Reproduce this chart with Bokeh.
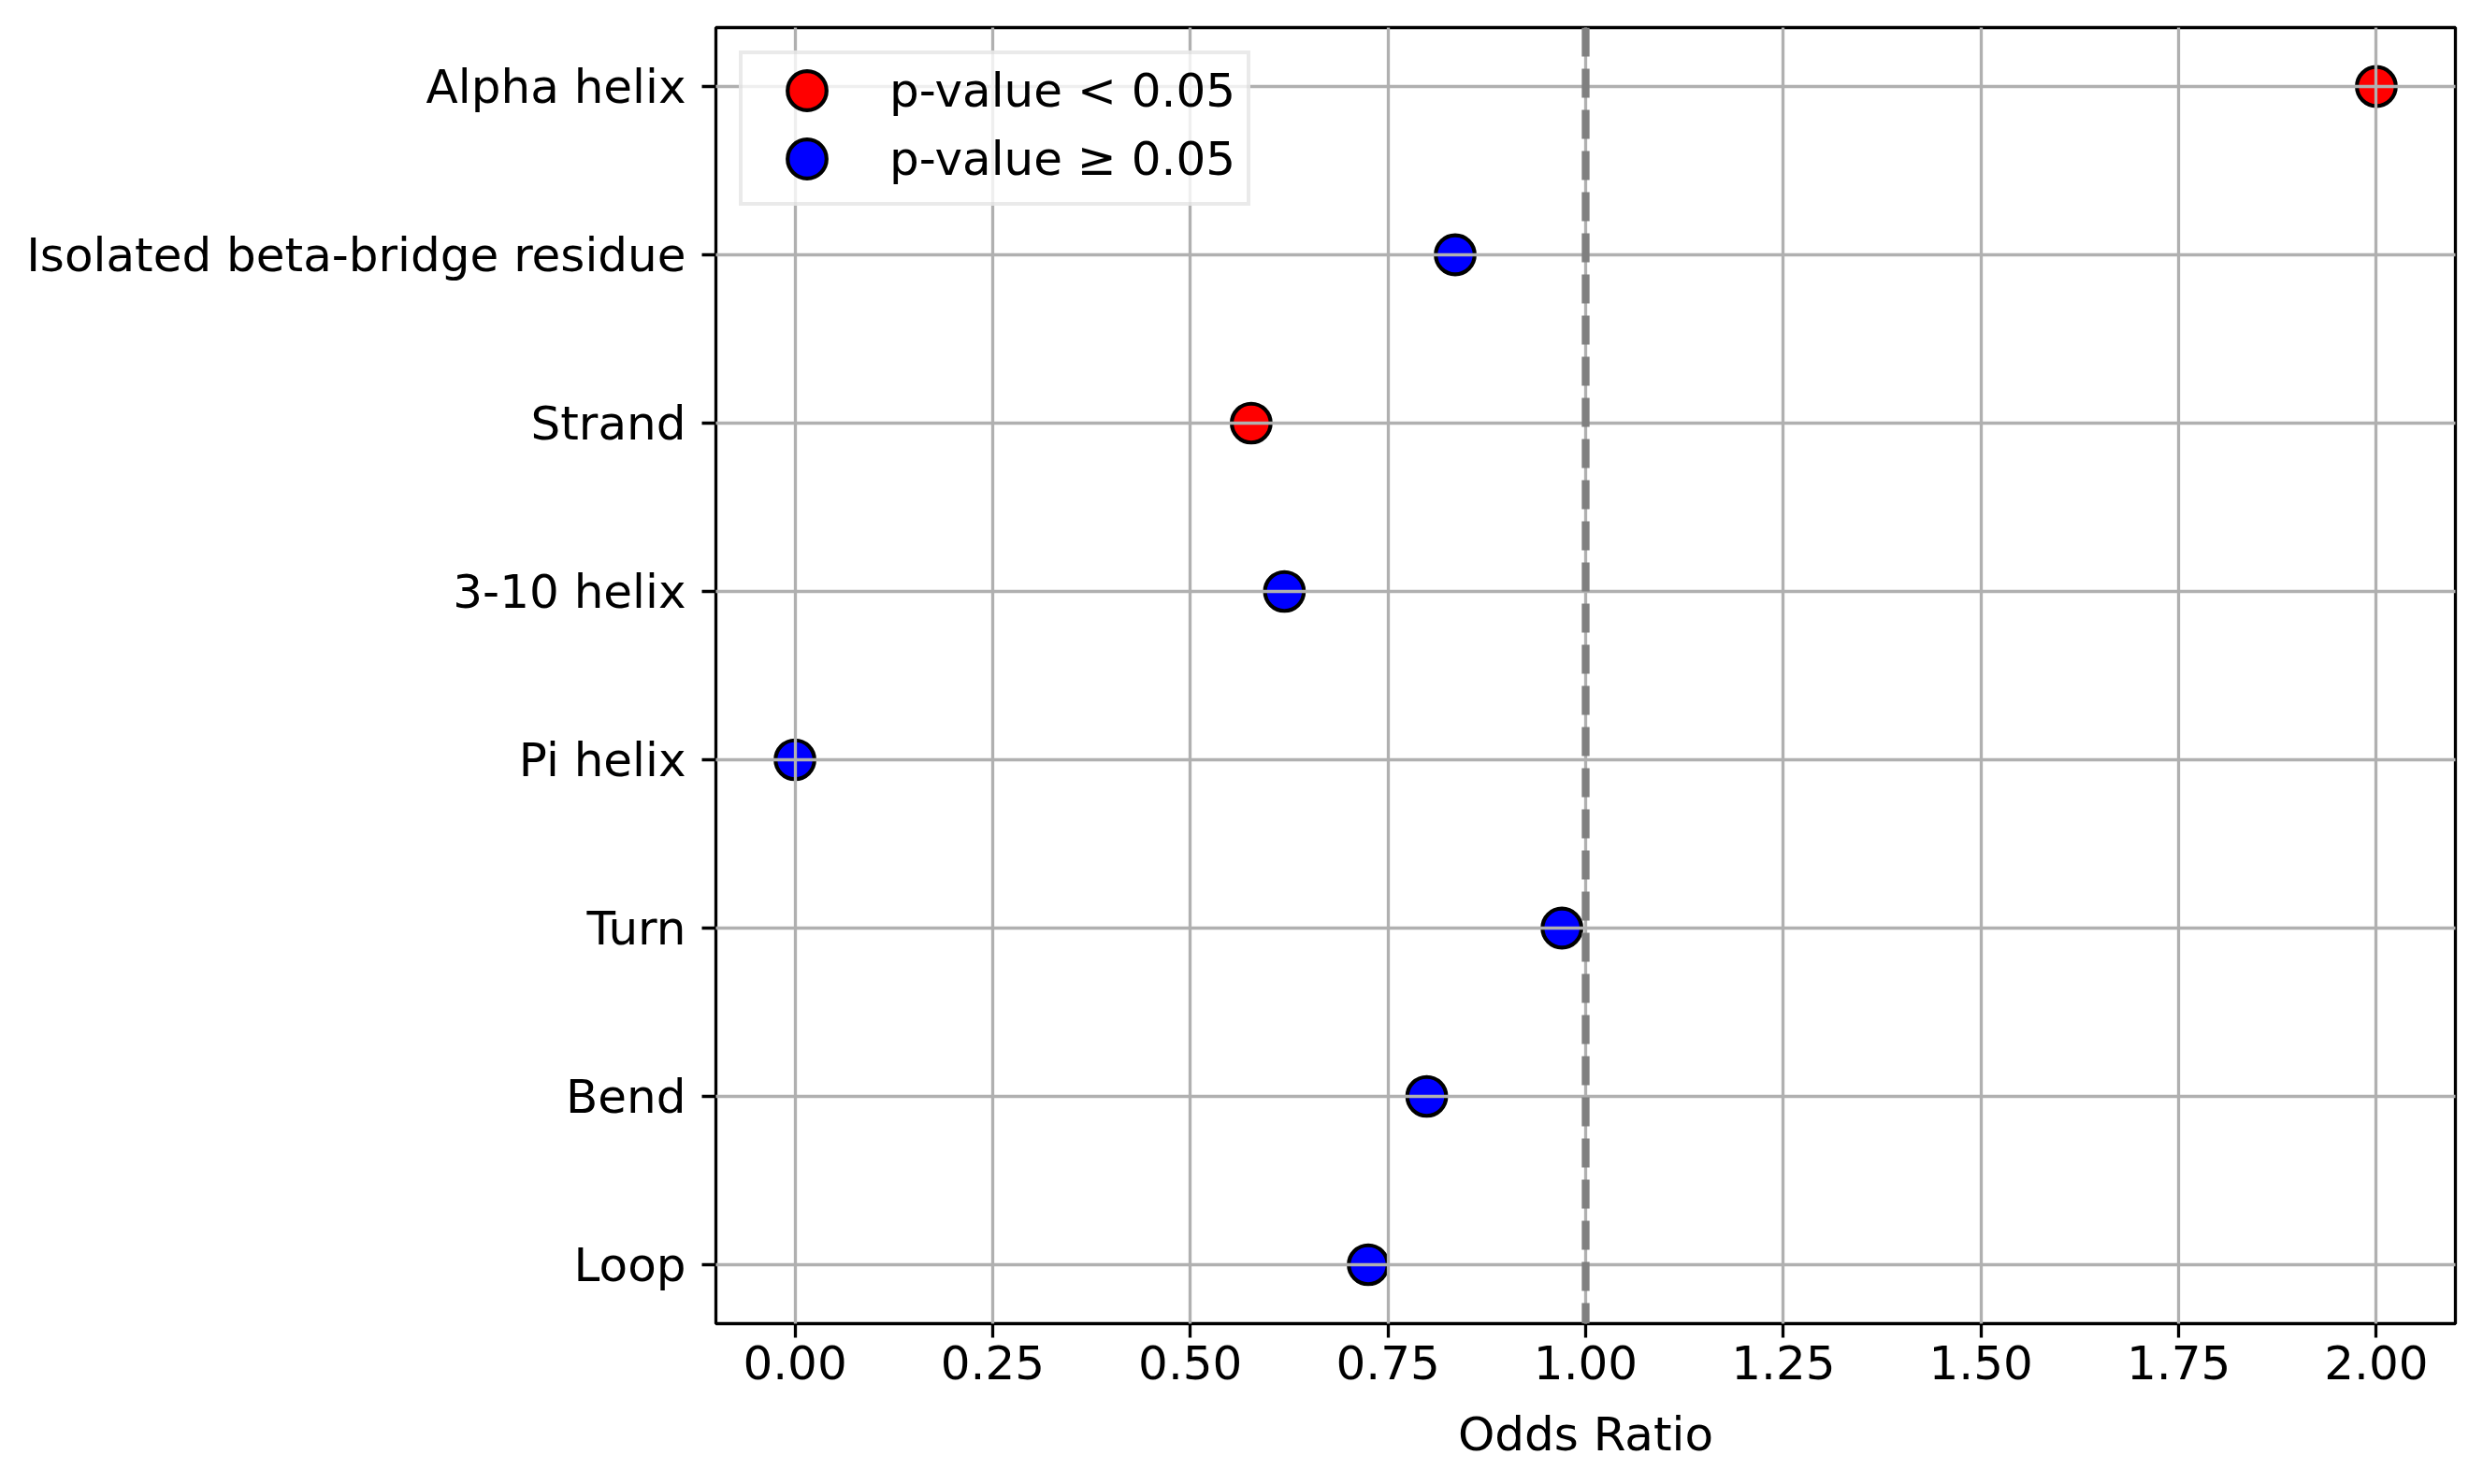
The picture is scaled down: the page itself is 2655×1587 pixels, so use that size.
from bokeh.plotting import figure
from bokeh.models import ColumnDataSource, Span, Legend, LegendItem, FixedTicker, PrintfTickFormatter
from bokeh.embed import file_html
from bokeh.resources import INLINE

# ---- data (top to bottom as displayed) ----
categories = ["Alpha helix", "Isolated beta-bridge residue", "Strand", "3-10 helix",
              "Pi helix", "Turn", "Bend", "Loop"]
odds_ratio = [2.00, 0.835, 0.577, 0.619, 0.00, 0.970, 0.799, 0.725]
significant = [True, False, True, False, False, False, False, False]
x_ticks = [0.0, 0.25, 0.5, 0.75, 1.0, 1.25, 1.5, 1.75, 2.0]
reference_or = 1.0
legend_labels = ["p-value < 0.05", "p-value \u2265 0.05"]
group_colors = ["red", "blue"]
x_label = "Odds Ratio"

FONT = "DejaVu Sans"
n = len(categories)
ypos = [n - 1 - i for i in range(n)]

sig_src = ColumnDataSource(dict(
    x=[v for v, s in zip(odds_ratio, significant) if s],
    y=[y for y, s in zip(ypos, significant) if s]))
ns_src = ColumnDataSource(dict(
    x=[v for v, s in zip(odds_ratio, significant) if not s],
    y=[y for y, s in zip(ypos, significant) if not s]))

p = figure(frame_width=1860, frame_height=1386,
           x_range=(-0.1, 2.1), y_range=(-0.35, n - 1 + 0.35),
           output_backend="svg", toolbar_location=None,
           min_border_left=765, min_border_right=20,
           min_border_top=29, min_border_bottom=160)

p.background_fill_color = "white"
p.border_fill_color = "white"
p.outline_line_color = "black"
p.outline_line_width = 3.3

# markers: a black ring layer plus a coloured disc layer (same look as a
# filled circle with a black edge, and renders identically in the legend)
MS = 29.2          # base marker size
EDGE_W = 16.6      # black ring stroke -> outer diameter ~46 px
FILL_W = 8.2       # coloured stroke  -> leaves ~4 px black edge


def dot(src, color):
    r_edge = p.scatter("x", "y", source=src, size=MS, fill_color=None,
                       line_color="black", line_width=EDGE_W)
    r_fill = p.scatter("x", "y", source=src, size=MS, fill_color=color,
                       line_color=color, line_width=FILL_W)
    return [r_edge, r_fill]


r_sig = dot(sig_src, group_colors[0])
r_ns = dot(ns_src, group_colors[1])

# axes
p.xaxis.ticker = FixedTicker(ticks=x_ticks)
p.xaxis.formatter = PrintfTickFormatter(format="%.2f")
p.yaxis.ticker = FixedTicker(ticks=ypos)
p.yaxis.major_label_overrides = {y: c for y, c in zip(ypos, categories)}

for ax in (p.xaxis[0], p.yaxis[0]):
    ax.axis_line_color = None
    ax.major_tick_line_color = "black"
    ax.major_tick_line_width = 3.3
    ax.major_tick_out = 15
    ax.major_tick_in = 0
    ax.minor_tick_line_color = None
    ax.major_label_text_font = FONT
    ax.major_label_text_font_size = "50px"
    ax.major_label_text_color = "black"
    ax.axis_label_text_font = FONT
    ax.axis_label_text_font_size = "50px"
    ax.axis_label_text_font_style = "normal"
    ax.axis_label_text_color = "black"

p.xaxis.major_label_standoff = 8
p.yaxis.major_label_standoff = 17
p.xaxis.axis_label = x_label
p.xaxis.axis_label_standoff = 27

for g in (p.xgrid[0], p.ygrid[0]):
    g.grid_line_color = "#b0b0b0"
    g.grid_line_width = 3.3
    g.level = "guide"

vline = Span(location=reference_or, dimension="height", line_color="gray",
             line_width=8.3, line_dash="31 13")
p.add_layout(vline)

legend = Legend(items=[LegendItem(label=legend_labels[0], renderers=r_sig),
                       LegendItem(label=legend_labels[1], renderers=r_ns)],
                location="top_left", margin=25,
                padding=dict(left=32, right=0, top=2, bottom=10), spacing=0,
                glyph_width=73, glyph_height=73, label_standoff=52,
                label_width=382,
                label_text_font=FONT, label_text_font_size="50px",
                label_text_color="black",
                border_line_color="#d6d6d6", border_line_width=4,
                background_fill_color="white", background_fill_alpha=0.8)
p.add_layout(legend, "center")

open("out.html", "w").write(file_html(p, INLINE))
